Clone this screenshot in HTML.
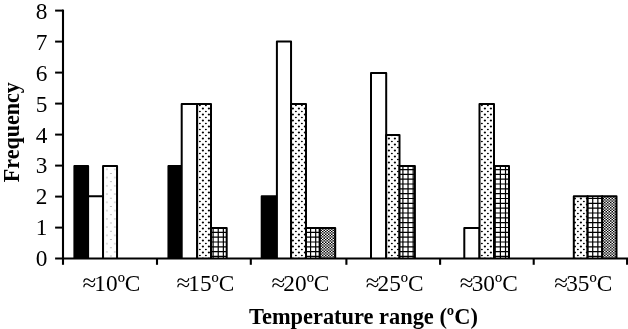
<!DOCTYPE html>
<html><head><meta charset="utf-8"><title>Chart</title>
<style>
html,body{margin:0;padding:0;background:#fff;}
body{width:628px;height:329px;overflow:hidden;}
svg{display:block;will-change:transform;transform:translateZ(0);}
text{font-family:"Liberation Serif",serif;fill:#000;}
.n{font-size:23.3px;}
.a{font-size:25px;}
.b{font-size:22.4px;font-weight:bold;}
</style></head><body>
<svg width="628" height="329" viewBox="0 0 628 329">
<rect width="628" height="329" fill="#fff"/>

<defs>
<pattern id="dot" patternUnits="userSpaceOnUse" x="0" y="0" width="6" height="6">
<rect width="6" height="6" fill="#fff"/>
<circle cx="4.9" cy="0.5" r="1.08" fill="#000"/>
<circle cx="4.9" cy="6.5" r="1.08" fill="#000"/>
<ellipse cx="1.9" cy="3.5" rx="1.0" ry="0.65" fill="#000"/>
</pattern>
<pattern id="lt" patternUnits="userSpaceOnUse" x="106.9" y="169.3" width="7.95" height="8.26">
<rect width="8" height="8.3" fill="#fff"/>
<rect x="-0.6" y="-0.4" width="1.2" height="0.8" fill="#777"/>
<rect x="7.35" y="-0.4" width="1.2" height="0.8" fill="#777"/>
<rect x="-0.6" y="7.86" width="1.2" height="0.8" fill="#777"/>
<rect x="7.35" y="7.86" width="1.2" height="0.8" fill="#777"/>
<rect x="3.4" y="3.73" width="1.2" height="0.8" fill="#777"/>
</pattern>
</defs>

<defs><clipPath id="c6"><rect x="211.00" y="228.00" width="15.70" height="30.50"/></clipPath><clipPath id="c10"><rect x="306.00" y="228.00" width="13.80" height="30.50"/></clipPath><clipPath id="c11"><rect x="319.80" y="228.00" width="15.40" height="30.50"/></clipPath><clipPath id="c14"><rect x="399.50" y="166.00" width="15.40" height="92.50"/></clipPath><clipPath id="c17"><rect x="494.00" y="166.00" width="15.00" height="92.50"/></clipPath><clipPath id="c19"><rect x="587.60" y="196.30" width="14.60" height="62.20"/></clipPath><clipPath id="c20"><rect x="602.20" y="196.30" width="14.30" height="62.20"/></clipPath></defs>
<g>
<path d="M74.40 258.5V166.00H88.10V258.5" fill="black" stroke="#000" stroke-width="2" stroke-linejoin="round"/>
<path d="M88.10 258.5V196.30H103.05V258.5" fill="white" stroke="#000" stroke-width="2" stroke-linejoin="round"/>
<path d="M103.05 258.5V166.00H117.05V258.5" fill="url(#lt)" stroke="#000" stroke-width="2" stroke-linejoin="round"/>
<path d="M168.45 258.5V166.00H181.70V258.5" fill="black" stroke="#000" stroke-width="2" stroke-linejoin="round"/>
<path d="M181.70 258.5V104.00H197.15V258.5" fill="white" stroke="#000" stroke-width="2" stroke-linejoin="round"/>
<path d="M197.15 258.5V104.00H211.00V258.5" fill="url(#dot)" stroke="#000" stroke-width="2" stroke-linejoin="round"/>
<rect x="211.00" y="228.00" width="15.70" height="30.50" fill="#fff"/>
<path clip-path="url(#c6)" fill="#000" d="M202.24 227.00h1.2V259.5h-1.2zM207.37 227.00h1.2V259.5h-1.2zM212.50 227.00h1.2V259.5h-1.2zM217.63 227.00h1.2V259.5h-1.2zM222.76 227.00h1.2V259.5h-1.2zM227.89 227.00h1.2V259.5h-1.2zM233.02 227.00h1.2V259.5h-1.2zM210.00 222.06H227.70v1.2H210.00zM210.00 226.89H227.70v1.2H210.00zM210.00 231.72H227.70v1.2H210.00zM210.00 236.55H227.70v1.2H210.00zM210.00 241.38H227.70v1.2H210.00zM210.00 246.21H227.70v1.2H210.00zM210.00 251.04H227.70v1.2H210.00zM210.00 255.87H227.70v1.2H210.00zM210.00 260.70H227.70v1.2H210.00zM210.00 265.53H227.70v1.2H210.00z"/>
<path d="M211.00 258.5V228.00H226.70V258.5" fill="none" stroke="#000" stroke-width="2" stroke-linejoin="round"/>
<path d="M261.70 258.5V196.30H276.90V258.5" fill="black" stroke="#000" stroke-width="2" stroke-linejoin="round"/>
<path d="M276.90 258.5V41.40H291.05V258.5" fill="white" stroke="#000" stroke-width="2" stroke-linejoin="round"/>
<path d="M291.05 258.5V104.00H306.00V258.5" fill="url(#dot)" stroke="#000" stroke-width="2" stroke-linejoin="round"/>
<rect x="306.00" y="228.00" width="13.80" height="30.50" fill="#fff"/>
<path clip-path="url(#c10)" fill="#000" d="M299.71 227.00h1.2V259.5h-1.2zM304.84 227.00h1.2V259.5h-1.2zM309.97 227.00h1.2V259.5h-1.2zM315.10 227.00h1.2V259.5h-1.2zM320.23 227.00h1.2V259.5h-1.2zM325.36 227.00h1.2V259.5h-1.2zM305.00 222.06H320.80v1.2H305.00zM305.00 226.89H320.80v1.2H305.00zM305.00 231.72H320.80v1.2H305.00zM305.00 236.55H320.80v1.2H305.00zM305.00 241.38H320.80v1.2H305.00zM305.00 246.21H320.80v1.2H305.00zM305.00 251.04H320.80v1.2H305.00zM305.00 255.87H320.80v1.2H305.00zM305.00 260.70H320.80v1.2H305.00zM305.00 265.53H320.80v1.2H305.00z"/>
<path d="M306.00 258.5V228.00H319.80V258.5" fill="none" stroke="#000" stroke-width="2" stroke-linejoin="round"/>
<rect x="319.80" y="228.00" width="15.40" height="30.50" fill="#fff"/>
<path clip-path="url(#c11)" fill="#000" d="M319.00 225.650h1.5v1.325h-1.5zM322.00 225.650h1.5v1.325h-1.5zM325.00 225.650h1.5v1.325h-1.5zM328.00 225.650h1.5v1.325h-1.5zM331.00 225.650h1.5v1.325h-1.5zM334.00 225.650h1.5v1.325h-1.5zM337.00 225.650h1.5v1.325h-1.5zM317.50 226.975h1.5v1.325h-1.5zM320.50 226.975h1.5v1.325h-1.5zM323.50 226.975h1.5v1.325h-1.5zM326.50 226.975h1.5v1.325h-1.5zM329.50 226.975h1.5v1.325h-1.5zM332.50 226.975h1.5v1.325h-1.5zM335.50 226.975h1.5v1.325h-1.5zM319.00 228.300h1.5v1.325h-1.5zM322.00 228.300h1.5v1.325h-1.5zM325.00 228.300h1.5v1.325h-1.5zM328.00 228.300h1.5v1.325h-1.5zM331.00 228.300h1.5v1.325h-1.5zM334.00 228.300h1.5v1.325h-1.5zM337.00 228.300h1.5v1.325h-1.5zM317.50 229.625h1.5v1.325h-1.5zM320.50 229.625h1.5v1.325h-1.5zM323.50 229.625h1.5v1.325h-1.5zM326.50 229.625h1.5v1.325h-1.5zM329.50 229.625h1.5v1.325h-1.5zM332.50 229.625h1.5v1.325h-1.5zM335.50 229.625h1.5v1.325h-1.5zM319.00 230.950h1.5v1.325h-1.5zM322.00 230.950h1.5v1.325h-1.5zM325.00 230.950h1.5v1.325h-1.5zM328.00 230.950h1.5v1.325h-1.5zM331.00 230.950h1.5v1.325h-1.5zM334.00 230.950h1.5v1.325h-1.5zM337.00 230.950h1.5v1.325h-1.5zM317.50 232.275h1.5v1.325h-1.5zM320.50 232.275h1.5v1.325h-1.5zM323.50 232.275h1.5v1.325h-1.5zM326.50 232.275h1.5v1.325h-1.5zM329.50 232.275h1.5v1.325h-1.5zM332.50 232.275h1.5v1.325h-1.5zM335.50 232.275h1.5v1.325h-1.5zM319.00 233.600h1.5v1.325h-1.5zM322.00 233.600h1.5v1.325h-1.5zM325.00 233.600h1.5v1.325h-1.5zM328.00 233.600h1.5v1.325h-1.5zM331.00 233.600h1.5v1.325h-1.5zM334.00 233.600h1.5v1.325h-1.5zM337.00 233.600h1.5v1.325h-1.5zM317.50 234.925h1.5v1.325h-1.5zM320.50 234.925h1.5v1.325h-1.5zM323.50 234.925h1.5v1.325h-1.5zM326.50 234.925h1.5v1.325h-1.5zM329.50 234.925h1.5v1.325h-1.5zM332.50 234.925h1.5v1.325h-1.5zM335.50 234.925h1.5v1.325h-1.5zM319.00 236.250h1.5v1.325h-1.5zM322.00 236.250h1.5v1.325h-1.5zM325.00 236.250h1.5v1.325h-1.5zM328.00 236.250h1.5v1.325h-1.5zM331.00 236.250h1.5v1.325h-1.5zM334.00 236.250h1.5v1.325h-1.5zM337.00 236.250h1.5v1.325h-1.5zM317.50 237.575h1.5v1.325h-1.5zM320.50 237.575h1.5v1.325h-1.5zM323.50 237.575h1.5v1.325h-1.5zM326.50 237.575h1.5v1.325h-1.5zM329.50 237.575h1.5v1.325h-1.5zM332.50 237.575h1.5v1.325h-1.5zM335.50 237.575h1.5v1.325h-1.5zM319.00 238.900h1.5v1.325h-1.5zM322.00 238.900h1.5v1.325h-1.5zM325.00 238.900h1.5v1.325h-1.5zM328.00 238.900h1.5v1.325h-1.5zM331.00 238.900h1.5v1.325h-1.5zM334.00 238.900h1.5v1.325h-1.5zM337.00 238.900h1.5v1.325h-1.5zM317.50 240.225h1.5v1.325h-1.5zM320.50 240.225h1.5v1.325h-1.5zM323.50 240.225h1.5v1.325h-1.5zM326.50 240.225h1.5v1.325h-1.5zM329.50 240.225h1.5v1.325h-1.5zM332.50 240.225h1.5v1.325h-1.5zM335.50 240.225h1.5v1.325h-1.5zM319.00 241.550h1.5v1.325h-1.5zM322.00 241.550h1.5v1.325h-1.5zM325.00 241.550h1.5v1.325h-1.5zM328.00 241.550h1.5v1.325h-1.5zM331.00 241.550h1.5v1.325h-1.5zM334.00 241.550h1.5v1.325h-1.5zM337.00 241.550h1.5v1.325h-1.5zM317.50 242.875h1.5v1.325h-1.5zM320.50 242.875h1.5v1.325h-1.5zM323.50 242.875h1.5v1.325h-1.5zM326.50 242.875h1.5v1.325h-1.5zM329.50 242.875h1.5v1.325h-1.5zM332.50 242.875h1.5v1.325h-1.5zM335.50 242.875h1.5v1.325h-1.5zM319.00 244.200h1.5v1.325h-1.5zM322.00 244.200h1.5v1.325h-1.5zM325.00 244.200h1.5v1.325h-1.5zM328.00 244.200h1.5v1.325h-1.5zM331.00 244.200h1.5v1.325h-1.5zM334.00 244.200h1.5v1.325h-1.5zM337.00 244.200h1.5v1.325h-1.5zM317.50 245.525h1.5v1.325h-1.5zM320.50 245.525h1.5v1.325h-1.5zM323.50 245.525h1.5v1.325h-1.5zM326.50 245.525h1.5v1.325h-1.5zM329.50 245.525h1.5v1.325h-1.5zM332.50 245.525h1.5v1.325h-1.5zM335.50 245.525h1.5v1.325h-1.5zM319.00 246.850h1.5v1.325h-1.5zM322.00 246.850h1.5v1.325h-1.5zM325.00 246.850h1.5v1.325h-1.5zM328.00 246.850h1.5v1.325h-1.5zM331.00 246.850h1.5v1.325h-1.5zM334.00 246.850h1.5v1.325h-1.5zM337.00 246.850h1.5v1.325h-1.5zM317.50 248.175h1.5v1.325h-1.5zM320.50 248.175h1.5v1.325h-1.5zM323.50 248.175h1.5v1.325h-1.5zM326.50 248.175h1.5v1.325h-1.5zM329.50 248.175h1.5v1.325h-1.5zM332.50 248.175h1.5v1.325h-1.5zM335.50 248.175h1.5v1.325h-1.5zM319.00 249.500h1.5v1.325h-1.5zM322.00 249.500h1.5v1.325h-1.5zM325.00 249.500h1.5v1.325h-1.5zM328.00 249.500h1.5v1.325h-1.5zM331.00 249.500h1.5v1.325h-1.5zM334.00 249.500h1.5v1.325h-1.5zM337.00 249.500h1.5v1.325h-1.5zM317.50 250.825h1.5v1.325h-1.5zM320.50 250.825h1.5v1.325h-1.5zM323.50 250.825h1.5v1.325h-1.5zM326.50 250.825h1.5v1.325h-1.5zM329.50 250.825h1.5v1.325h-1.5zM332.50 250.825h1.5v1.325h-1.5zM335.50 250.825h1.5v1.325h-1.5zM319.00 252.150h1.5v1.325h-1.5zM322.00 252.150h1.5v1.325h-1.5zM325.00 252.150h1.5v1.325h-1.5zM328.00 252.150h1.5v1.325h-1.5zM331.00 252.150h1.5v1.325h-1.5zM334.00 252.150h1.5v1.325h-1.5zM337.00 252.150h1.5v1.325h-1.5zM317.50 253.475h1.5v1.325h-1.5zM320.50 253.475h1.5v1.325h-1.5zM323.50 253.475h1.5v1.325h-1.5zM326.50 253.475h1.5v1.325h-1.5zM329.50 253.475h1.5v1.325h-1.5zM332.50 253.475h1.5v1.325h-1.5zM335.50 253.475h1.5v1.325h-1.5zM319.00 254.800h1.5v1.325h-1.5zM322.00 254.800h1.5v1.325h-1.5zM325.00 254.800h1.5v1.325h-1.5zM328.00 254.800h1.5v1.325h-1.5zM331.00 254.800h1.5v1.325h-1.5zM334.00 254.800h1.5v1.325h-1.5zM337.00 254.800h1.5v1.325h-1.5zM317.50 256.125h1.5v1.325h-1.5zM320.50 256.125h1.5v1.325h-1.5zM323.50 256.125h1.5v1.325h-1.5zM326.50 256.125h1.5v1.325h-1.5zM329.50 256.125h1.5v1.325h-1.5zM332.50 256.125h1.5v1.325h-1.5zM335.50 256.125h1.5v1.325h-1.5zM319.00 257.450h1.5v1.325h-1.5zM322.00 257.450h1.5v1.325h-1.5zM325.00 257.450h1.5v1.325h-1.5zM328.00 257.450h1.5v1.325h-1.5zM331.00 257.450h1.5v1.325h-1.5zM334.00 257.450h1.5v1.325h-1.5zM337.00 257.450h1.5v1.325h-1.5zM317.50 258.775h1.5v1.325h-1.5zM320.50 258.775h1.5v1.325h-1.5zM323.50 258.775h1.5v1.325h-1.5zM326.50 258.775h1.5v1.325h-1.5zM329.50 258.775h1.5v1.325h-1.5zM332.50 258.775h1.5v1.325h-1.5zM335.50 258.775h1.5v1.325h-1.5zM319.00 260.100h1.5v1.325h-1.5zM322.00 260.100h1.5v1.325h-1.5zM325.00 260.100h1.5v1.325h-1.5zM328.00 260.100h1.5v1.325h-1.5zM331.00 260.100h1.5v1.325h-1.5zM334.00 260.100h1.5v1.325h-1.5zM337.00 260.100h1.5v1.325h-1.5z"/>
<path d="M319.80 258.5V228.00H335.20V258.5" fill="none" stroke="#000" stroke-width="2" stroke-linejoin="round"/>
<path d="M371.00 258.5V73.00H386.20V258.5" fill="white" stroke="#000" stroke-width="2" stroke-linejoin="round"/>
<path d="M386.20 258.5V135.00H399.50V258.5" fill="url(#dot)" stroke="#000" stroke-width="2" stroke-linejoin="round"/>
<rect x="399.50" y="166.00" width="15.40" height="92.50" fill="#fff"/>
<path clip-path="url(#c14)" fill="#000" d="M392.05 165.00h1.2V259.5h-1.2zM397.18 165.00h1.2V259.5h-1.2zM402.31 165.00h1.2V259.5h-1.2zM407.44 165.00h1.2V259.5h-1.2zM412.57 165.00h1.2V259.5h-1.2zM417.70 165.00h1.2V259.5h-1.2zM422.83 165.00h1.2V259.5h-1.2zM398.50 159.27H415.90v1.2H398.50zM398.50 164.10H415.90v1.2H398.50zM398.50 168.93H415.90v1.2H398.50zM398.50 173.76H415.90v1.2H398.50zM398.50 178.59H415.90v1.2H398.50zM398.50 183.42H415.90v1.2H398.50zM398.50 188.25H415.90v1.2H398.50zM398.50 193.08H415.90v1.2H398.50zM398.50 197.91H415.90v1.2H398.50zM398.50 202.74H415.90v1.2H398.50zM398.50 207.57H415.90v1.2H398.50zM398.50 212.40H415.90v1.2H398.50zM398.50 217.23H415.90v1.2H398.50zM398.50 222.06H415.90v1.2H398.50zM398.50 226.89H415.90v1.2H398.50zM398.50 231.72H415.90v1.2H398.50zM398.50 236.55H415.90v1.2H398.50zM398.50 241.38H415.90v1.2H398.50zM398.50 246.21H415.90v1.2H398.50zM398.50 251.04H415.90v1.2H398.50zM398.50 255.87H415.90v1.2H398.50zM398.50 260.70H415.90v1.2H398.50zM398.50 265.53H415.90v1.2H398.50z"/>
<path d="M399.50 258.5V166.00H414.90V258.5" fill="none" stroke="#000" stroke-width="2" stroke-linejoin="round"/>
<path d="M464.30 258.5V228.00H479.50V258.5" fill="white" stroke="#000" stroke-width="2" stroke-linejoin="round"/>
<path d="M479.50 258.5V104.00H494.00V258.5" fill="url(#dot)" stroke="#000" stroke-width="2" stroke-linejoin="round"/>
<rect x="494.00" y="166.00" width="15.00" height="92.50" fill="#fff"/>
<path clip-path="url(#c17)" fill="#000" d="M484.39 165.00h1.2V259.5h-1.2zM489.52 165.00h1.2V259.5h-1.2zM494.65 165.00h1.2V259.5h-1.2zM499.78 165.00h1.2V259.5h-1.2zM504.91 165.00h1.2V259.5h-1.2zM510.04 165.00h1.2V259.5h-1.2zM515.17 165.00h1.2V259.5h-1.2zM493.00 159.27H510.00v1.2H493.00zM493.00 164.10H510.00v1.2H493.00zM493.00 168.93H510.00v1.2H493.00zM493.00 173.76H510.00v1.2H493.00zM493.00 178.59H510.00v1.2H493.00zM493.00 183.42H510.00v1.2H493.00zM493.00 188.25H510.00v1.2H493.00zM493.00 193.08H510.00v1.2H493.00zM493.00 197.91H510.00v1.2H493.00zM493.00 202.74H510.00v1.2H493.00zM493.00 207.57H510.00v1.2H493.00zM493.00 212.40H510.00v1.2H493.00zM493.00 217.23H510.00v1.2H493.00zM493.00 222.06H510.00v1.2H493.00zM493.00 226.89H510.00v1.2H493.00zM493.00 231.72H510.00v1.2H493.00zM493.00 236.55H510.00v1.2H493.00zM493.00 241.38H510.00v1.2H493.00zM493.00 246.21H510.00v1.2H493.00zM493.00 251.04H510.00v1.2H493.00zM493.00 255.87H510.00v1.2H493.00zM493.00 260.70H510.00v1.2H493.00zM493.00 265.53H510.00v1.2H493.00z"/>
<path d="M494.00 258.5V166.00H509.00V258.5" fill="none" stroke="#000" stroke-width="2" stroke-linejoin="round"/>
<path d="M573.80 258.5V196.30H587.60V258.5" fill="url(#dot)" stroke="#000" stroke-width="2" stroke-linejoin="round"/>
<rect x="587.60" y="196.30" width="14.60" height="62.20" fill="#fff"/>
<path clip-path="url(#c19)" fill="#000" d="M581.86 195.30h1.2V259.5h-1.2zM586.99 195.30h1.2V259.5h-1.2zM592.12 195.30h1.2V259.5h-1.2zM597.25 195.30h1.2V259.5h-1.2zM602.38 195.30h1.2V259.5h-1.2zM607.51 195.30h1.2V259.5h-1.2zM586.60 188.25H603.20v1.2H586.60zM586.60 193.08H603.20v1.2H586.60zM586.60 197.91H603.20v1.2H586.60zM586.60 202.74H603.20v1.2H586.60zM586.60 207.57H603.20v1.2H586.60zM586.60 212.40H603.20v1.2H586.60zM586.60 217.23H603.20v1.2H586.60zM586.60 222.06H603.20v1.2H586.60zM586.60 226.89H603.20v1.2H586.60zM586.60 231.72H603.20v1.2H586.60zM586.60 236.55H603.20v1.2H586.60zM586.60 241.38H603.20v1.2H586.60zM586.60 246.21H603.20v1.2H586.60zM586.60 251.04H603.20v1.2H586.60zM586.60 255.87H603.20v1.2H586.60zM586.60 260.70H603.20v1.2H586.60zM586.60 265.53H603.20v1.2H586.60z"/>
<path d="M587.60 258.5V196.30H602.20V258.5" fill="none" stroke="#000" stroke-width="2" stroke-linejoin="round"/>
<rect x="602.20" y="196.30" width="14.30" height="62.20" fill="#fff"/>
<path clip-path="url(#c20)" fill="#000" d="M601.00 193.850h1.5v1.325h-1.5zM604.00 193.850h1.5v1.325h-1.5zM607.00 193.850h1.5v1.325h-1.5zM610.00 193.850h1.5v1.325h-1.5zM613.00 193.850h1.5v1.325h-1.5zM616.00 193.850h1.5v1.325h-1.5zM619.00 193.850h1.5v1.325h-1.5zM599.50 195.175h1.5v1.325h-1.5zM602.50 195.175h1.5v1.325h-1.5zM605.50 195.175h1.5v1.325h-1.5zM608.50 195.175h1.5v1.325h-1.5zM611.50 195.175h1.5v1.325h-1.5zM614.50 195.175h1.5v1.325h-1.5zM617.50 195.175h1.5v1.325h-1.5zM601.00 196.500h1.5v1.325h-1.5zM604.00 196.500h1.5v1.325h-1.5zM607.00 196.500h1.5v1.325h-1.5zM610.00 196.500h1.5v1.325h-1.5zM613.00 196.500h1.5v1.325h-1.5zM616.00 196.500h1.5v1.325h-1.5zM619.00 196.500h1.5v1.325h-1.5zM599.50 197.825h1.5v1.325h-1.5zM602.50 197.825h1.5v1.325h-1.5zM605.50 197.825h1.5v1.325h-1.5zM608.50 197.825h1.5v1.325h-1.5zM611.50 197.825h1.5v1.325h-1.5zM614.50 197.825h1.5v1.325h-1.5zM617.50 197.825h1.5v1.325h-1.5zM601.00 199.150h1.5v1.325h-1.5zM604.00 199.150h1.5v1.325h-1.5zM607.00 199.150h1.5v1.325h-1.5zM610.00 199.150h1.5v1.325h-1.5zM613.00 199.150h1.5v1.325h-1.5zM616.00 199.150h1.5v1.325h-1.5zM619.00 199.150h1.5v1.325h-1.5zM599.50 200.475h1.5v1.325h-1.5zM602.50 200.475h1.5v1.325h-1.5zM605.50 200.475h1.5v1.325h-1.5zM608.50 200.475h1.5v1.325h-1.5zM611.50 200.475h1.5v1.325h-1.5zM614.50 200.475h1.5v1.325h-1.5zM617.50 200.475h1.5v1.325h-1.5zM601.00 201.800h1.5v1.325h-1.5zM604.00 201.800h1.5v1.325h-1.5zM607.00 201.800h1.5v1.325h-1.5zM610.00 201.800h1.5v1.325h-1.5zM613.00 201.800h1.5v1.325h-1.5zM616.00 201.800h1.5v1.325h-1.5zM619.00 201.800h1.5v1.325h-1.5zM599.50 203.125h1.5v1.325h-1.5zM602.50 203.125h1.5v1.325h-1.5zM605.50 203.125h1.5v1.325h-1.5zM608.50 203.125h1.5v1.325h-1.5zM611.50 203.125h1.5v1.325h-1.5zM614.50 203.125h1.5v1.325h-1.5zM617.50 203.125h1.5v1.325h-1.5zM601.00 204.450h1.5v1.325h-1.5zM604.00 204.450h1.5v1.325h-1.5zM607.00 204.450h1.5v1.325h-1.5zM610.00 204.450h1.5v1.325h-1.5zM613.00 204.450h1.5v1.325h-1.5zM616.00 204.450h1.5v1.325h-1.5zM619.00 204.450h1.5v1.325h-1.5zM599.50 205.775h1.5v1.325h-1.5zM602.50 205.775h1.5v1.325h-1.5zM605.50 205.775h1.5v1.325h-1.5zM608.50 205.775h1.5v1.325h-1.5zM611.50 205.775h1.5v1.325h-1.5zM614.50 205.775h1.5v1.325h-1.5zM617.50 205.775h1.5v1.325h-1.5zM601.00 207.100h1.5v1.325h-1.5zM604.00 207.100h1.5v1.325h-1.5zM607.00 207.100h1.5v1.325h-1.5zM610.00 207.100h1.5v1.325h-1.5zM613.00 207.100h1.5v1.325h-1.5zM616.00 207.100h1.5v1.325h-1.5zM619.00 207.100h1.5v1.325h-1.5zM599.50 208.425h1.5v1.325h-1.5zM602.50 208.425h1.5v1.325h-1.5zM605.50 208.425h1.5v1.325h-1.5zM608.50 208.425h1.5v1.325h-1.5zM611.50 208.425h1.5v1.325h-1.5zM614.50 208.425h1.5v1.325h-1.5zM617.50 208.425h1.5v1.325h-1.5zM601.00 209.750h1.5v1.325h-1.5zM604.00 209.750h1.5v1.325h-1.5zM607.00 209.750h1.5v1.325h-1.5zM610.00 209.750h1.5v1.325h-1.5zM613.00 209.750h1.5v1.325h-1.5zM616.00 209.750h1.5v1.325h-1.5zM619.00 209.750h1.5v1.325h-1.5zM599.50 211.075h1.5v1.325h-1.5zM602.50 211.075h1.5v1.325h-1.5zM605.50 211.075h1.5v1.325h-1.5zM608.50 211.075h1.5v1.325h-1.5zM611.50 211.075h1.5v1.325h-1.5zM614.50 211.075h1.5v1.325h-1.5zM617.50 211.075h1.5v1.325h-1.5zM601.00 212.400h1.5v1.325h-1.5zM604.00 212.400h1.5v1.325h-1.5zM607.00 212.400h1.5v1.325h-1.5zM610.00 212.400h1.5v1.325h-1.5zM613.00 212.400h1.5v1.325h-1.5zM616.00 212.400h1.5v1.325h-1.5zM619.00 212.400h1.5v1.325h-1.5zM599.50 213.725h1.5v1.325h-1.5zM602.50 213.725h1.5v1.325h-1.5zM605.50 213.725h1.5v1.325h-1.5zM608.50 213.725h1.5v1.325h-1.5zM611.50 213.725h1.5v1.325h-1.5zM614.50 213.725h1.5v1.325h-1.5zM617.50 213.725h1.5v1.325h-1.5zM601.00 215.050h1.5v1.325h-1.5zM604.00 215.050h1.5v1.325h-1.5zM607.00 215.050h1.5v1.325h-1.5zM610.00 215.050h1.5v1.325h-1.5zM613.00 215.050h1.5v1.325h-1.5zM616.00 215.050h1.5v1.325h-1.5zM619.00 215.050h1.5v1.325h-1.5zM599.50 216.375h1.5v1.325h-1.5zM602.50 216.375h1.5v1.325h-1.5zM605.50 216.375h1.5v1.325h-1.5zM608.50 216.375h1.5v1.325h-1.5zM611.50 216.375h1.5v1.325h-1.5zM614.50 216.375h1.5v1.325h-1.5zM617.50 216.375h1.5v1.325h-1.5zM601.00 217.700h1.5v1.325h-1.5zM604.00 217.700h1.5v1.325h-1.5zM607.00 217.700h1.5v1.325h-1.5zM610.00 217.700h1.5v1.325h-1.5zM613.00 217.700h1.5v1.325h-1.5zM616.00 217.700h1.5v1.325h-1.5zM619.00 217.700h1.5v1.325h-1.5zM599.50 219.025h1.5v1.325h-1.5zM602.50 219.025h1.5v1.325h-1.5zM605.50 219.025h1.5v1.325h-1.5zM608.50 219.025h1.5v1.325h-1.5zM611.50 219.025h1.5v1.325h-1.5zM614.50 219.025h1.5v1.325h-1.5zM617.50 219.025h1.5v1.325h-1.5zM601.00 220.350h1.5v1.325h-1.5zM604.00 220.350h1.5v1.325h-1.5zM607.00 220.350h1.5v1.325h-1.5zM610.00 220.350h1.5v1.325h-1.5zM613.00 220.350h1.5v1.325h-1.5zM616.00 220.350h1.5v1.325h-1.5zM619.00 220.350h1.5v1.325h-1.5zM599.50 221.675h1.5v1.325h-1.5zM602.50 221.675h1.5v1.325h-1.5zM605.50 221.675h1.5v1.325h-1.5zM608.50 221.675h1.5v1.325h-1.5zM611.50 221.675h1.5v1.325h-1.5zM614.50 221.675h1.5v1.325h-1.5zM617.50 221.675h1.5v1.325h-1.5zM601.00 223.000h1.5v1.325h-1.5zM604.00 223.000h1.5v1.325h-1.5zM607.00 223.000h1.5v1.325h-1.5zM610.00 223.000h1.5v1.325h-1.5zM613.00 223.000h1.5v1.325h-1.5zM616.00 223.000h1.5v1.325h-1.5zM619.00 223.000h1.5v1.325h-1.5zM599.50 224.325h1.5v1.325h-1.5zM602.50 224.325h1.5v1.325h-1.5zM605.50 224.325h1.5v1.325h-1.5zM608.50 224.325h1.5v1.325h-1.5zM611.50 224.325h1.5v1.325h-1.5zM614.50 224.325h1.5v1.325h-1.5zM617.50 224.325h1.5v1.325h-1.5zM601.00 225.650h1.5v1.325h-1.5zM604.00 225.650h1.5v1.325h-1.5zM607.00 225.650h1.5v1.325h-1.5zM610.00 225.650h1.5v1.325h-1.5zM613.00 225.650h1.5v1.325h-1.5zM616.00 225.650h1.5v1.325h-1.5zM619.00 225.650h1.5v1.325h-1.5zM599.50 226.975h1.5v1.325h-1.5zM602.50 226.975h1.5v1.325h-1.5zM605.50 226.975h1.5v1.325h-1.5zM608.50 226.975h1.5v1.325h-1.5zM611.50 226.975h1.5v1.325h-1.5zM614.50 226.975h1.5v1.325h-1.5zM617.50 226.975h1.5v1.325h-1.5zM601.00 228.300h1.5v1.325h-1.5zM604.00 228.300h1.5v1.325h-1.5zM607.00 228.300h1.5v1.325h-1.5zM610.00 228.300h1.5v1.325h-1.5zM613.00 228.300h1.5v1.325h-1.5zM616.00 228.300h1.5v1.325h-1.5zM619.00 228.300h1.5v1.325h-1.5zM599.50 229.625h1.5v1.325h-1.5zM602.50 229.625h1.5v1.325h-1.5zM605.50 229.625h1.5v1.325h-1.5zM608.50 229.625h1.5v1.325h-1.5zM611.50 229.625h1.5v1.325h-1.5zM614.50 229.625h1.5v1.325h-1.5zM617.50 229.625h1.5v1.325h-1.5zM601.00 230.950h1.5v1.325h-1.5zM604.00 230.950h1.5v1.325h-1.5zM607.00 230.950h1.5v1.325h-1.5zM610.00 230.950h1.5v1.325h-1.5zM613.00 230.950h1.5v1.325h-1.5zM616.00 230.950h1.5v1.325h-1.5zM619.00 230.950h1.5v1.325h-1.5zM599.50 232.275h1.5v1.325h-1.5zM602.50 232.275h1.5v1.325h-1.5zM605.50 232.275h1.5v1.325h-1.5zM608.50 232.275h1.5v1.325h-1.5zM611.50 232.275h1.5v1.325h-1.5zM614.50 232.275h1.5v1.325h-1.5zM617.50 232.275h1.5v1.325h-1.5zM601.00 233.600h1.5v1.325h-1.5zM604.00 233.600h1.5v1.325h-1.5zM607.00 233.600h1.5v1.325h-1.5zM610.00 233.600h1.5v1.325h-1.5zM613.00 233.600h1.5v1.325h-1.5zM616.00 233.600h1.5v1.325h-1.5zM619.00 233.600h1.5v1.325h-1.5zM599.50 234.925h1.5v1.325h-1.5zM602.50 234.925h1.5v1.325h-1.5zM605.50 234.925h1.5v1.325h-1.5zM608.50 234.925h1.5v1.325h-1.5zM611.50 234.925h1.5v1.325h-1.5zM614.50 234.925h1.5v1.325h-1.5zM617.50 234.925h1.5v1.325h-1.5zM601.00 236.250h1.5v1.325h-1.5zM604.00 236.250h1.5v1.325h-1.5zM607.00 236.250h1.5v1.325h-1.5zM610.00 236.250h1.5v1.325h-1.5zM613.00 236.250h1.5v1.325h-1.5zM616.00 236.250h1.5v1.325h-1.5zM619.00 236.250h1.5v1.325h-1.5zM599.50 237.575h1.5v1.325h-1.5zM602.50 237.575h1.5v1.325h-1.5zM605.50 237.575h1.5v1.325h-1.5zM608.50 237.575h1.5v1.325h-1.5zM611.50 237.575h1.5v1.325h-1.5zM614.50 237.575h1.5v1.325h-1.5zM617.50 237.575h1.5v1.325h-1.5zM601.00 238.900h1.5v1.325h-1.5zM604.00 238.900h1.5v1.325h-1.5zM607.00 238.900h1.5v1.325h-1.5zM610.00 238.900h1.5v1.325h-1.5zM613.00 238.900h1.5v1.325h-1.5zM616.00 238.900h1.5v1.325h-1.5zM619.00 238.900h1.5v1.325h-1.5zM599.50 240.225h1.5v1.325h-1.5zM602.50 240.225h1.5v1.325h-1.5zM605.50 240.225h1.5v1.325h-1.5zM608.50 240.225h1.5v1.325h-1.5zM611.50 240.225h1.5v1.325h-1.5zM614.50 240.225h1.5v1.325h-1.5zM617.50 240.225h1.5v1.325h-1.5zM601.00 241.550h1.5v1.325h-1.5zM604.00 241.550h1.5v1.325h-1.5zM607.00 241.550h1.5v1.325h-1.5zM610.00 241.550h1.5v1.325h-1.5zM613.00 241.550h1.5v1.325h-1.5zM616.00 241.550h1.5v1.325h-1.5zM619.00 241.550h1.5v1.325h-1.5zM599.50 242.875h1.5v1.325h-1.5zM602.50 242.875h1.5v1.325h-1.5zM605.50 242.875h1.5v1.325h-1.5zM608.50 242.875h1.5v1.325h-1.5zM611.50 242.875h1.5v1.325h-1.5zM614.50 242.875h1.5v1.325h-1.5zM617.50 242.875h1.5v1.325h-1.5zM601.00 244.200h1.5v1.325h-1.5zM604.00 244.200h1.5v1.325h-1.5zM607.00 244.200h1.5v1.325h-1.5zM610.00 244.200h1.5v1.325h-1.5zM613.00 244.200h1.5v1.325h-1.5zM616.00 244.200h1.5v1.325h-1.5zM619.00 244.200h1.5v1.325h-1.5zM599.50 245.525h1.5v1.325h-1.5zM602.50 245.525h1.5v1.325h-1.5zM605.50 245.525h1.5v1.325h-1.5zM608.50 245.525h1.5v1.325h-1.5zM611.50 245.525h1.5v1.325h-1.5zM614.50 245.525h1.5v1.325h-1.5zM617.50 245.525h1.5v1.325h-1.5zM601.00 246.850h1.5v1.325h-1.5zM604.00 246.850h1.5v1.325h-1.5zM607.00 246.850h1.5v1.325h-1.5zM610.00 246.850h1.5v1.325h-1.5zM613.00 246.850h1.5v1.325h-1.5zM616.00 246.850h1.5v1.325h-1.5zM619.00 246.850h1.5v1.325h-1.5zM599.50 248.175h1.5v1.325h-1.5zM602.50 248.175h1.5v1.325h-1.5zM605.50 248.175h1.5v1.325h-1.5zM608.50 248.175h1.5v1.325h-1.5zM611.50 248.175h1.5v1.325h-1.5zM614.50 248.175h1.5v1.325h-1.5zM617.50 248.175h1.5v1.325h-1.5zM601.00 249.500h1.5v1.325h-1.5zM604.00 249.500h1.5v1.325h-1.5zM607.00 249.500h1.5v1.325h-1.5zM610.00 249.500h1.5v1.325h-1.5zM613.00 249.500h1.5v1.325h-1.5zM616.00 249.500h1.5v1.325h-1.5zM619.00 249.500h1.5v1.325h-1.5zM599.50 250.825h1.5v1.325h-1.5zM602.50 250.825h1.5v1.325h-1.5zM605.50 250.825h1.5v1.325h-1.5zM608.50 250.825h1.5v1.325h-1.5zM611.50 250.825h1.5v1.325h-1.5zM614.50 250.825h1.5v1.325h-1.5zM617.50 250.825h1.5v1.325h-1.5zM601.00 252.150h1.5v1.325h-1.5zM604.00 252.150h1.5v1.325h-1.5zM607.00 252.150h1.5v1.325h-1.5zM610.00 252.150h1.5v1.325h-1.5zM613.00 252.150h1.5v1.325h-1.5zM616.00 252.150h1.5v1.325h-1.5zM619.00 252.150h1.5v1.325h-1.5zM599.50 253.475h1.5v1.325h-1.5zM602.50 253.475h1.5v1.325h-1.5zM605.50 253.475h1.5v1.325h-1.5zM608.50 253.475h1.5v1.325h-1.5zM611.50 253.475h1.5v1.325h-1.5zM614.50 253.475h1.5v1.325h-1.5zM617.50 253.475h1.5v1.325h-1.5zM601.00 254.800h1.5v1.325h-1.5zM604.00 254.800h1.5v1.325h-1.5zM607.00 254.800h1.5v1.325h-1.5zM610.00 254.800h1.5v1.325h-1.5zM613.00 254.800h1.5v1.325h-1.5zM616.00 254.800h1.5v1.325h-1.5zM619.00 254.800h1.5v1.325h-1.5zM599.50 256.125h1.5v1.325h-1.5zM602.50 256.125h1.5v1.325h-1.5zM605.50 256.125h1.5v1.325h-1.5zM608.50 256.125h1.5v1.325h-1.5zM611.50 256.125h1.5v1.325h-1.5zM614.50 256.125h1.5v1.325h-1.5zM617.50 256.125h1.5v1.325h-1.5zM601.00 257.450h1.5v1.325h-1.5zM604.00 257.450h1.5v1.325h-1.5zM607.00 257.450h1.5v1.325h-1.5zM610.00 257.450h1.5v1.325h-1.5zM613.00 257.450h1.5v1.325h-1.5zM616.00 257.450h1.5v1.325h-1.5zM619.00 257.450h1.5v1.325h-1.5zM599.50 258.775h1.5v1.325h-1.5zM602.50 258.775h1.5v1.325h-1.5zM605.50 258.775h1.5v1.325h-1.5zM608.50 258.775h1.5v1.325h-1.5zM611.50 258.775h1.5v1.325h-1.5zM614.50 258.775h1.5v1.325h-1.5zM617.50 258.775h1.5v1.325h-1.5zM601.00 260.100h1.5v1.325h-1.5zM604.00 260.100h1.5v1.325h-1.5zM607.00 260.100h1.5v1.325h-1.5zM610.00 260.100h1.5v1.325h-1.5zM613.00 260.100h1.5v1.325h-1.5zM616.00 260.100h1.5v1.325h-1.5zM619.00 260.100h1.5v1.325h-1.5z"/>
<path d="M602.20 258.5V196.30H616.50V258.5" fill="none" stroke="#000" stroke-width="2" stroke-linejoin="round"/>
</g>
<g>
<line x1="63" y1="9.6" x2="63" y2="264.8" stroke="#000" stroke-width="2.1"/>
<line x1="55.1" y1="258.5" x2="628" y2="258.5" stroke="#000" stroke-width="2.1"/>
<line x1="55.1" y1="227.60" x2="63" y2="227.60" stroke="#000" stroke-width="2"/>
<line x1="55.1" y1="196.60" x2="63" y2="196.60" stroke="#000" stroke-width="2"/>
<line x1="55.1" y1="165.60" x2="63" y2="165.60" stroke="#000" stroke-width="2"/>
<line x1="55.1" y1="134.60" x2="63" y2="134.60" stroke="#000" stroke-width="2"/>
<line x1="55.1" y1="103.60" x2="63" y2="103.60" stroke="#000" stroke-width="2"/>
<line x1="55.1" y1="72.60" x2="63" y2="72.60" stroke="#000" stroke-width="2"/>
<line x1="55.1" y1="41.60" x2="63" y2="41.60" stroke="#000" stroke-width="2"/>
<line x1="55.1" y1="10.60" x2="63" y2="10.60" stroke="#000" stroke-width="2"/>
<line x1="157" y1="258.5" x2="157" y2="264.8" stroke="#000" stroke-width="2.1"/>
<line x1="250.8" y1="258.5" x2="250.8" y2="264.8" stroke="#000" stroke-width="2.1"/>
<line x1="346.4" y1="258.5" x2="346.4" y2="264.8" stroke="#000" stroke-width="2.1"/>
<line x1="440.1" y1="258.5" x2="440.1" y2="264.8" stroke="#000" stroke-width="2.1"/>
<line x1="533.7" y1="258.5" x2="533.7" y2="264.8" stroke="#000" stroke-width="2.1"/>
<line x1="627.1" y1="258.5" x2="627.1" y2="264.8" stroke="#000" stroke-width="2.1"/>
</g>
<g>
<text x="47.5" y="265.98" text-anchor="end" class="n">0</text>
<text x="47.5" y="235.12" text-anchor="end" class="n">1</text>
<text x="47.5" y="204.26" text-anchor="end" class="n">2</text>
<text x="47.5" y="173.40" text-anchor="end" class="n">3</text>
<text x="47.5" y="142.54" text-anchor="end" class="n">4</text>
<text x="47.5" y="111.68" text-anchor="end" class="n">5</text>
<text x="47.5" y="80.82" text-anchor="end" class="n">6</text>
<text x="47.5" y="49.96" text-anchor="end" class="n">7</text>
<text x="47.5" y="19.10" text-anchor="end" class="n">8</text>
<text x="82.50" y="291" class="a">≈</text>
<text x="94.35" y="290.7" class="n">10ºC</text>
<text x="176.40" y="291" class="a">≈</text>
<text x="188.25" y="290.7" class="n">15ºC</text>
<text x="271.50" y="291" class="a">≈</text>
<text x="283.35" y="290.7" class="n">20ºC</text>
<text x="365.70" y="291" class="a">≈</text>
<text x="377.55" y="290.7" class="n">25ºC</text>
<text x="459.80" y="291" class="a">≈</text>
<text x="471.65" y="290.7" class="n">30ºC</text>
<text x="554.30" y="291" class="a">≈</text>
<text x="566.15" y="290.7" class="n">35ºC</text>
<text x="363.5" y="324.4" text-anchor="middle" class="b">Temperature range (ºC)</text>
<text transform="translate(18.8,132.2) rotate(-90) scale(0.983,1)" text-anchor="middle" class="b">Frequency</text>
</g>
</svg>
</body></html>
